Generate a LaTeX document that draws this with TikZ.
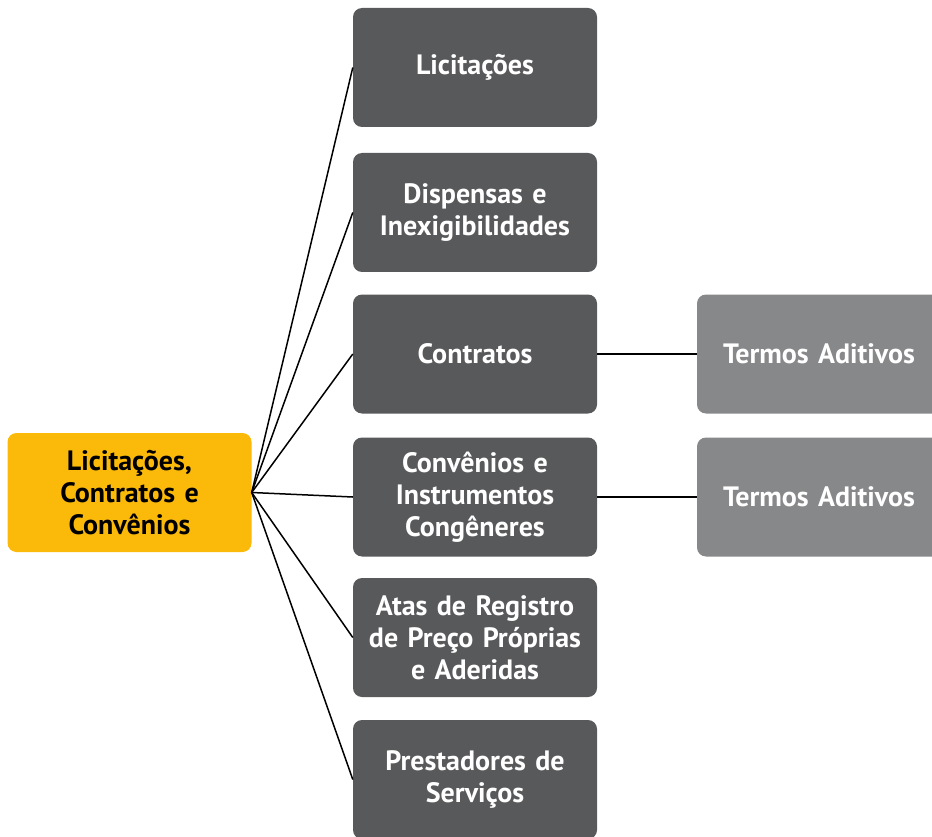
\documentclass[tikz,border=0pt]{standalone}
\usepackage{fontspec}
\setmainfont{PT Sans}[WordSpace=0.85]
\definecolor{rootc}{HTML}{FBBA09}
\definecolor{darkc}{HTML}{58595B}
\definecolor{lightc}{HTML}{87888A}
\begin{document}
\begin{tikzpicture}[x=1pt,y=-1pt,
  box/.style={rounded corners=9pt, minimum width=244pt, minimum height=119pt, inner sep=0pt,
    text width=240pt, align=center, font=\fontsize{28}{32}\selectfont\bfseries},
  rootbox/.style={box, fill=rootc, text=black},
  midbox/.style={box, fill=darkc, text=white},
  sidebox/.style={box, fill=lightc, text=white},
  link/.style={draw=black, line width=1.5pt}]
\useasboundingbox (0,0) rectangle (932,837);
\clip (0,0) rectangle (932,837);
\node[rootbox] (root) at (129.5,492.5) {Licitações,\\Contratos e\\Convênios};
\node[midbox] (m1) at (475,67.5) {Licitações};
\node[midbox] (m2) at (475,212.5) {Dispensas e\\Inexigibilidades};
\node[midbox] (m3) at (475,354) {Contratos};
\node[midbox] (m4) at (475,497) {Convênios e\\Instrumentos\\Congêneres};
\node[midbox] (m5) at (475,637.5) {Atas de Registro\\de Preço Próprias\\e Aderidas};
\node[midbox] (m6) at (475,779.5) {Prestadores de\\Serviços};
\node[sidebox] (s1) at (819,354) {Termos Aditivos};
\node[sidebox] (s2) at (819,497) {Termos Aditivos};
\foreach \m in {m1,m2,m3,m4,m5,m6}{\draw[link] (root.east) -- (\m.west);}
\draw[link] (m3.east) -- (s1.west);
\draw[link] (m4.east) -- (s2.west);
\end{tikzpicture}
\end{document}
